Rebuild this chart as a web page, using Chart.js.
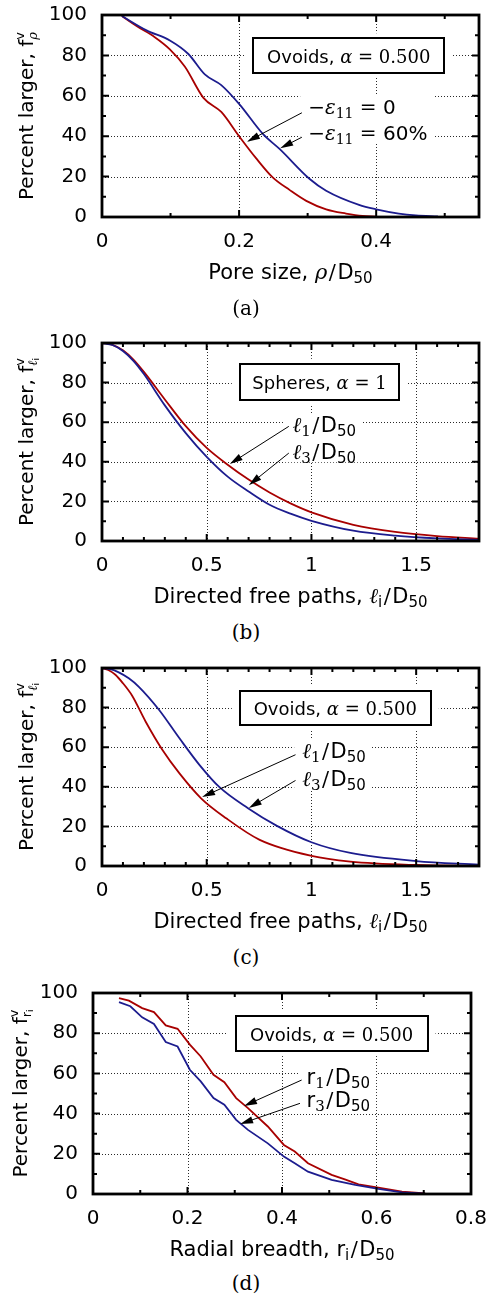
<!DOCTYPE html>
<html><head><meta charset="utf-8">
<script src="https://cdn.jsdelivr.net/npm/chart.js@4.4.1/dist/chart.umd.min.js"></script>
<style>
html,body{margin:0;padding:0;background:#fff;}
body{width:488px;height:1302px;position:relative;overflow:hidden;}
canvas{position:absolute;left:0;}
.cap{position:absolute;left:0;width:492px;text-align:center;font:20px 'DejaVu Serif';line-height:22px;color:#000;}
</style></head><body>
<canvas id="ca" width="488" height="300" style="top:0px"></canvas>
<canvas id="cb" width="488" height="295" style="top:325px"></canvas>
<canvas id="cc" width="488" height="295" style="top:650px"></canvas>
<canvas id="cd" width="488" height="295" style="top:975px"></canvas>
<div class="cap" style="top:297px">(a)</div>
<div class="cap" style="top:621px">(b)</div>
<div class="cap" style="top:946px">(c)</div>
<div class="cap" style="top:1272px">(d)</div>
<script>
// ---------------- data ----------------
// (a) pore size
const aRhoEps0  = [0.029, 0.051, 0.077, 0.099, 0.121, 0.148, 0.174, 0.200, 0.225, 0.249, 0.274, 0.298, 0.327, 0.356, 0.380, 0.400];
const aPctEps0  = [99.5, 94.4, 89.0, 83.0, 74.4, 59.0, 52.0, 40.0, 29.0, 19.6, 13.3, 8.0, 3.8, 1.7, 0.5, 0.2];
const aRhoEps60 = [0.029, 0.065, 0.099, 0.126, 0.150, 0.174, 0.200, 0.235, 0.259, 0.303, 0.327, 0.375, 0.400, 0.433, 0.458, 0.490];
const aPctEps60 = [99.5, 92.4, 87.4, 80.7, 70.6, 65.3, 56.0, 41.0, 33.7, 18.8, 13.0, 6.0, 3.8, 1.7, 0.8, 0.3];
const aXTicks = [0, 0.2, 0.4];
const aXTickLabels = ['0', '0.2', '0.4'];
// (b) spheres, directed free paths
const bPathL1 = [0, 0.05, 0.1, 0.15, 0.2, 0.3, 0.4, 0.5, 0.6, 0.7, 0.8, 0.9, 1.0, 1.2, 1.4, 1.6, 1.8];
const bPctL1  = [100, 99.1, 96.3, 91.6, 85.4, 71.5, 58.0, 47.0, 38.5, 31.0, 24.5, 19.0, 14.5, 8.2, 4.6, 2.5, 1.2];
const bPathL3 = [0, 0.05, 0.1, 0.15, 0.2, 0.3, 0.4, 0.5, 0.6, 0.7, 0.8, 0.9, 1.0, 1.2, 1.4, 1.6, 1.8];
const bPctL3  = [100, 99.0, 96.0, 91.0, 84.3, 68.5, 54.5, 42.5, 32.5, 25.0, 18.3, 13.8, 10.2, 5.2, 2.7, 1.3, 0.6];
// (c) ovoids, directed free paths
const cPathL1 = [0, 0.03, 0.064, 0.1, 0.144, 0.208, 0.288, 0.369, 0.473, 0.593, 0.753, 1.0, 1.186, 1.5, 1.8];
const cPctL1  = [100, 99.0, 96.6, 92.3, 86.0, 73.0, 58.7, 46.9, 34.2, 24.1, 13.2, 5.1, 2.2, 0.5, 0.1];
const cPathL3 = [0, 0.04, 0.08, 0.128, 0.176, 0.272, 0.369, 0.465, 0.561, 0.697, 0.833, 1.0, 1.186, 1.5, 1.8];
const cPctL3  = [100, 99.4, 97.8, 94.8, 90.5, 78.9, 64.6, 51.1, 39.8, 29.2, 20.4, 12.0, 6.6, 2.5, 0.7];
const bcXTicks = [0, 0.5, 1, 1.5];
const bcXTickLabels = ['0', '0.5', '1', '1.5'];
// (d) ovoids, radial breadth
const dRadR1 = [0.055, 0.076, 0.104, 0.129, 0.154, 0.179, 0.205, 0.228, 0.255, 0.278, 0.303, 0.328, 0.370, 0.404, 0.427, 0.455, 0.505, 0.533, 0.562, 0.604, 0.654, 0.703];
const dPctR1 = [97.5, 96.2, 92.5, 90.5, 83.9, 82.2, 74.3, 68.4, 59.3, 55.6, 47.7, 42.7, 33.6, 24.4, 21.1, 15.3, 9.5, 7.3, 4.8, 3.2, 1.2, 0.3];
const dRadR3 = [0.055, 0.079, 0.104, 0.129, 0.154, 0.179, 0.205, 0.228, 0.255, 0.278, 0.303, 0.328, 0.370, 0.404, 0.427, 0.455, 0.505, 0.555, 0.604, 0.654, 0.703];
const dPctR3 = [95.5, 93.4, 87.9, 84.6, 75.6, 73.4, 61.8, 56.0, 47.7, 44.4, 36.9, 31.9, 25.2, 18.6, 15.3, 11.1, 7.0, 4.5, 2.5, 0.8, 0.2];
const dXTicks = [0, 0.2, 0.4, 0.6, 0.8];
const dXTickLabels = ['0', '0.2', '0.4', '0.6', '0.8'];
// shared y axis
const yTicks = [0, 20, 40, 60, 80, 100];
const yTickLabels = ['0', '20', '40', '60', '80', '100'];

// ---------------- style ----------------
const SANS = "'DejaVu Sans'";
const SERIF = "'DejaVu Serif'";
const RED = '#a80000';
const BLUE = '#1c1c8e';

function fontStr(s){ return (s.it ? 'italic ' : '') + s.sz + 'px ' + (s.f === 'r' ? SERIF : SANS); }
function segW(ctx, s){ ctx.font = fontStr(s); return ctx.measureText(s.t).width + (s.pl || 0) + (s.pr || 0); }
function measureSegs(ctx, segs){
  let w = 0;
  for (const s of segs){
    if (s.stack){ let m = 0; for (const p of s.stack) m = Math.max(m, measureSegs(ctx, p)); w += m; }
    else w += segW(ctx, s);
  }
  return w;
}
function drawSegs(ctx, segs, x, y){
  for (const s of segs){
    if (s.stack){ let m = 0; for (const p of s.stack){ drawSegs(ctx, p, x, y); m = Math.max(m, measureSegs(ctx, p)); } x += m; }
    else { const w = segW(ctx, s); ctx.font = fontStr(s); ctx.fillText(s.t, x + (s.pl || 0), y + (s.dy || 0)); x += w; }
  }
  return x;
}
const T = (t, f, sz, o) => Object.assign({t, f, sz}, o || {});

function arrow(ctx, x0, y0, x1, y1){
  const a = Math.atan2(y1 - y0, x1 - x0), L = 13, W = 3.6;
  const c = Math.cos(a), s = Math.sin(a);
  ctx.strokeStyle = '#000'; ctx.fillStyle = '#000'; ctx.lineWidth = 1; ctx.setLineDash([]);
  ctx.beginPath(); ctx.moveTo(x0, y0); ctx.lineTo(x1 - L * 0.8 * c, y1 - L * 0.8 * s); ctx.stroke();
  ctx.beginPath(); ctx.moveTo(x1, y1);
  ctx.lineTo(x1 - L * c + W * s, y1 - L * s - W * c);
  ctx.lineTo(x1 - L * c - W * s, y1 - L * s + W * c);
  ctx.closePath(); ctx.fill();
}

function makePanel(id, P){
  const canvasTop = P.canvasTop, H = P.canvasH;
  const deco = {
    id: 'deco',
    beforeDatasetsDraw(chart){
      const ctx = chart.ctx, xs = chart.scales.x, ys = chart.scales.y, A = chart.chartArea;
      ctx.save();
      ctx.strokeStyle = '#2a2a2a'; ctx.lineWidth = 1; ctx.setLineDash([1, 2]);
      for (const v of yTicks){ if (v <= 0 || v >= 100) continue;
        const py = Math.round(ys.getPixelForValue(v)) + 0.5;
        ctx.beginPath(); ctx.moveTo(A.left, py); ctx.lineTo(A.right, py); ctx.stroke(); }
      for (const v of P.xTicks){ if (v <= 0 || v >= P.xMax) continue;
        const px = Math.round(xs.getPixelForValue(v)) + 0.5;
        ctx.beginPath(); ctx.moveTo(px, A.top); ctx.lineTo(px, A.bottom); ctx.stroke(); }
      ctx.setLineDash([]);
      ctx.fillStyle = '#fff';
      const b = P.box;
      const bx0 = xs.getPixelForValue(b.x0), bx1 = xs.getPixelForValue(b.x1);
      const by0 = ys.getPixelForValue(b.y0), by1 = ys.getPixelForValue(b.y1);
      ctx.fillRect(bx0 - 8, by0 - 5, bx1 - bx0 + 16, by1 - by0 + 10);
      let minL = 1e9, maxR = -1e9, top = 1e9, bot = -1e9;
      for (const n of P.notes){
        const nx = xs.getPixelForValue(n.x), ny = ys.getPixelForValue(n.y);
        const w = measureSegs(ctx, n.segs);
        minL = Math.min(minL, nx); maxR = Math.max(maxR, nx + w);
        top = Math.min(top, ny); bot = Math.max(bot, ny);
      }
      ctx.fillRect(minL - 8, top - 11, maxR - minL + 14, bot - top + 22);
      ctx.restore();
    },
    afterDatasetsDraw(chart){
      const ctx = chart.ctx, xs = chart.scales.x, ys = chart.scales.y, A = chart.chartArea;
      ctx.save();
      ctx.fillStyle = '#000'; ctx.strokeStyle = '#000'; ctx.textBaseline = 'alphabetic'; ctx.textAlign = 'left';
      const b = P.box;
      const bx0 = xs.getPixelForValue(b.x0), bx1 = xs.getPixelForValue(b.x1);
      const by0 = ys.getPixelForValue(b.y0), by1 = ys.getPixelForValue(b.y1);
      ctx.lineWidth = 2;
      ctx.strokeRect(Math.round(bx0), Math.round(by0), Math.round(bx1 - bx0), Math.round(by1 - by0));
      const bw = measureSegs(ctx, b.segs);
      drawSegs(ctx, b.segs, (bx0 + bx1) / 2 - bw / 2, (by0 + by1) / 2 + 7);
      for (const n of P.notes){
        drawSegs(ctx, n.segs, xs.getPixelForValue(n.x), ys.getPixelForValue(n.y) + 7.5);
      }
      for (const a of P.arrows){
        arrow(ctx, xs.getPixelForValue(a[0]), ys.getPixelForValue(a[1]), xs.getPixelForValue(a[2]), ys.getPixelForValue(a[3]));
      }
      ctx.lineWidth = 2; ctx.lineCap = 'butt';
      const nMinorX = Math.round(P.xMax / P.xMinor + 1e-6);
      for (let i = 0; i <= nMinorX; i++){
        const v = i * P.xMinor;
        const major = Math.abs(v / P.xMajor - Math.round(v / P.xMajor)) < 1e-6;
        const len = major ? 7 : 4;
        const px = xs.getPixelForValue(v);
        ctx.beginPath(); ctx.moveTo(px, A.bottom); ctx.lineTo(px, A.bottom - len);
        ctx.moveTo(px, A.top); ctx.lineTo(px, A.top + len); ctx.stroke();
      }
      for (let v = 0; v <= 100; v += 10){
        const len = (v % 20 === 0) ? 7 : 4;
        const py = ys.getPixelForValue(v);
        ctx.beginPath(); ctx.moveTo(A.left, py); ctx.lineTo(A.left + len, py);
        ctx.moveTo(A.right, py); ctx.lineTo(A.right - len, py); ctx.stroke();
      }
      ctx.lineWidth = 2.8;
      ctx.strokeRect(A.left, A.top, A.right - A.left, A.bottom - A.top);
      const xw = measureSegs(ctx, P.xTitle);
      drawSegs(ctx, P.xTitle, (A.left + A.right) / 2 - xw / 2, A.bottom + 62);
      const yw = measureSegs(ctx, P.yTitle);
      ctx.translate(P.yTitleX, (A.top + A.bottom) / 2);
      ctx.rotate(-Math.PI / 2);
      drawSegs(ctx, P.yTitle, -yw / 2, 0);
      ctx.restore();
    }
  };

  const datasets = P.series.map(s => ({
    data: s.x.map((x, i) => ({x, y: s.y[i]})),
    borderColor: s.color, borderWidth: 1.8, pointRadius: 0, fill: false,
    cubicInterpolationMode: P.smooth ? 'monotone' : 'default', tension: 0
  }));

  return new Chart(document.getElementById(id), {
    type: 'line',
    data: {datasets},
    options: {
      responsive: false, animation: false, devicePixelRatio: 1,
      layout: {padding: {top: P.top - canvasTop, right: 488 - P.right, left: 0, bottom: 0}},
      plugins: {legend: {display: false}, tooltip: {enabled: false}},
      scales: {
        x: {
          type: 'linear', min: 0, max: P.xMax,
          grid: {display: false, drawTicks: false}, border: {display: false},
          afterBuildTicks: s => { s.ticks = P.xTicks.map(v => ({value: v})); },
          ticks: {padding: 13, color: '#000', font: {family: 'DejaVu Sans', size: 20}, maxRotation: 0, autoSkip: false,
                  callback: (v, i) => P.xTickLabels[i]},
          afterFit: s => { s.height = canvasTop + H - P.bottom; s.paddingLeft = 0; s.paddingRight = 0; }
        },
        y: {
          type: 'linear', min: 0, max: 100,
          grid: {display: false, drawTicks: false}, border: {display: false},
          afterBuildTicks: s => { s.ticks = yTicks.map(v => ({value: v})); },
          ticks: {padding: 15, color: '#000', font: {family: 'DejaVu Sans', size: 20}, autoSkip: false,
                  callback: (v, i) => yTickLabels[i]},
          afterFit: s => { s.width = P.left; s.paddingTop = 0; s.paddingBottom = 0; }
        }
      }
    },
    plugins: [deco]
  });
}

const yTitleStack = sub => ({stack: [[T('v', 's', 13, {dy: -9})], sub]});
const slash = sz => T('/', 'r', sz, {pl: 1.5, pr: 1.5});
const D50x = [slash(21), T('D', 's', 21), T('50', 's', 15, {dy: 4})];
const D50n = [slash(21), T('D', 's', 21), T('50', 's', 15, {dy: 4})];

makePanel('ca', {
  canvasTop: 0, canvasH: 300, left: 102, right: 479, top: 15, bottom: 217,
  xMax: 0.55, xMajor: 0.2, xMinor: 0.1, xTicks: aXTicks, xTickLabels: aXTickLabels, smooth: true,
  series: [{x: aRhoEps60, y: aPctEps60, color: BLUE}, {x: aRhoEps0, y: aPctEps0, color: RED}],
  yTitleX: 33,
  yTitle: [T('Percent larger, f', 's', 20), yTitleStack([T('ρ', 'r', 13, {it: 1, dy: 4})])],
  xTitle: [T('Pore size, ', 's', 21), T('ρ', 'r', 21, {it: 1})].concat(D50x),
  box: {x0: 0.2208, x1: 0.4991, y0: 88.5, y1: 71.4,
        segs: [T('Ovoids, ', 's', 18), T('α', 'r', 18, {it: 1}), T(' = 0.500', 'r', 18)]},
  notes: [
    {x: 0.3008, y: 54.9, segs: [T('−', 'r', 20), T('ε', 'r', 20, {it: 1}), T('11', 'r', 14, {dy: 4}), T(' = ', 'r', 20), T('0', 's', 20)]},
    {x: 0.3008, y: 41.7, segs: [T('−', 'r', 20), T('ε', 'r', 20, {it: 1}), T('11', 'r', 14, {dy: 4}), T(' = ', 'r', 20), T('60%', 's', 20)]}
  ],
  arrows: [[0.2916, 51.6, 0.2115, 37.3], [0.2916, 39.5, 0.2600, 34.0]]
});

makePanel('cb', {
  canvasTop: 325, canvasH: 295, left: 102, right: 479, top: 343, bottom: 541,
  xMax: 1.8, xMajor: 0.5, xMinor: 0.1, xTicks: bcXTicks, xTickLabels: bcXTickLabels, smooth: true,
  series: [{x: bPathL3, y: bPctL3, color: BLUE}, {x: bPathL1, y: bPctL1, color: RED}],
  yTitleX: 33,
  yTitle: [T('Percent larger, f', 's', 20), yTitleStack([T('ℓ', 'r', 13, {it: 1, dy: 4}), T('i', 's', 9, {dy: 6})])],
  xTitle: [T('Directed free paths, ', 's', 21), T('ℓ', 'r', 21, {it: 1}), T('i', 's', 15, {dy: 4})].concat(D50x),
  box: {x0: 0.658, x1: 1.419, y0: 89.5, y1: 71.4,
        segs: [T('Spheres, ', 's', 18), T('α', 'r', 18, {it: 1}), T(' = 1', 'r', 18)]},
  notes: [
    {x: 0.909, y: 58.7, segs: [T('ℓ', 'r', 21, {it: 1}), T('1', 'r', 15, {dy: 4})].concat(D50n)},
    {x: 0.909, y: 45.3, segs: [T('ℓ', 'r', 21, {it: 1}), T('3', 'r', 15, {dy: 4})].concat(D50n)}
  ],
  arrows: [[0.892, 57.9, 0.610, 38.9], [0.892, 44.4, 0.701, 28.2]]
});

makePanel('cc', {
  canvasTop: 650, canvasH: 295, left: 102, right: 479, top: 668, bottom: 866,
  xMax: 1.8, xMajor: 0.5, xMinor: 0.1, xTicks: bcXTicks, xTickLabels: bcXTickLabels, smooth: true,
  series: [{x: cPathL3, y: cPctL3, color: BLUE}, {x: cPathL1, y: cPctL1, color: RED}],
  yTitleX: 33,
  yTitle: [T('Percent larger, f', 's', 20), yTitleStack([T('ℓ', 'r', 13, {it: 1, dy: 4}), T('i', 's', 9, {dy: 6})])],
  xTitle: [T('Directed free paths, ', 's', 21), T('ℓ', 'r', 21, {it: 1}), T('i', 's', 15, {dy: 4})].concat(D50x),
  box: {x0: 0.658, x1: 1.570, y0: 88.5, y1: 71.4,
        segs: [T('Ovoids, ', 's', 18), T('α', 'r', 18, {it: 1}), T(' = 0.500', 'r', 18)]},
  notes: [
    {x: 0.956, y: 58.4, segs: [T('ℓ', 'r', 21, {it: 1}), T('1', 'r', 15, {dy: 4})].concat(D50n)},
    {x: 0.956, y: 44.4, segs: [T('ℓ', 'r', 21, {it: 1}), T('3', 'r', 15, {dy: 4})].concat(D50n)}
  ],
  arrows: [[0.924, 56.2, 0.478, 34.8], [0.924, 43.2, 0.701, 29.3]]
});

makePanel('cd', {
  canvasTop: 975, canvasH: 295, left: 93, right: 471, top: 993, bottom: 1194,
  xMax: 0.8, xMajor: 0.2, xMinor: 0.1, xTicks: dXTicks, xTickLabels: dXTickLabels, smooth: false,
  series: [{x: dRadR3, y: dPctR3, color: BLUE}, {x: dRadR1, y: dPctR1, color: RED}],
  yTitleX: 27,
  yTitle: [T('Percent larger, f', 's', 20), yTitleStack([T('r', 's', 13, {dy: 4}), T('i', 's', 9, {dy: 6})])],
  xTitle: [T('Radial breadth, r', 's', 21), T('i', 's', 15, {dy: 4})].concat(D50x),
  box: {x0: 0.302, x1: 0.708, y0: 88.6, y1: 71.1,
        segs: [T('Ovoids, ', 's', 18), T('α', 'r', 18, {it: 1}), T(' = 0.500', 'r', 18)]},
  notes: [
    {x: 0.452, y: 58.7, segs: [T('r', 's', 21), T('1', 'r', 15, {dy: 4})].concat(D50n)},
    {x: 0.452, y: 46.8, segs: [T('r', 's', 21), T('3', 'r', 15, {dy: 4})].concat(D50n)}
  ],
  arrows: [[0.4416, 56.7, 0.3197, 43.8], [0.4380, 45.1, 0.3113, 34.8]]
});
</script>
</body></html>
